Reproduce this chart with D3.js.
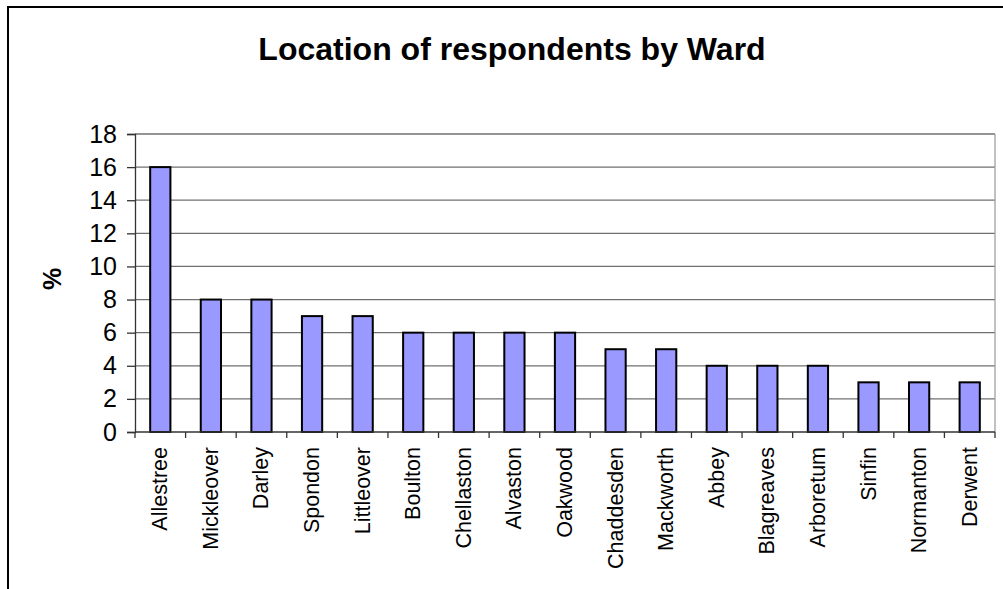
<!DOCTYPE html>
<html>
<head>
<meta charset="utf-8">
<script src="https://cdn.jsdelivr.net/npm/d3@7"></script>
<style>
  html, body { margin: 0; padding: 0; background: #fff; }
  svg { display: block; font-family: "Liberation Sans", Arial, sans-serif; }
</style>
</head>
<body>
<svg id="chart" width="1003" height="589"></svg>
<script>
// Survey responses by ward (percentage of respondents)
const wards = ["Allestree", "Mickleover", "Darley", "Spondon", "Littleover", "Boulton",
  "Chellaston", "Alvaston", "Oakwood", "Chaddesden", "Mackworth", "Abbey",
  "Blagreaves", "Arboretum", "Sinfin", "Normanton", "Derwent"];
const percents = [16, 8, 8, 7, 7, 6, 6, 6, 6, 5, 5, 4, 4, 4, 3, 3, 3];
const yTicks = [0, 2, 4, 6, 8, 10, 12, 14, 16, 18];
const titleText = "Location of respondents by Ward";
const yLabel = "%";

const svg = d3.select("#chart");
const W = 1003, H = 589;
const plot = { left: 135, right: 995, top: 134, bottom: 432 };

// outer chart frame (runs off the right/bottom edge)
svg.append("rect")
  .attr("x", 8).attr("y", 7)
  .attr("width", W + 20).attr("height", H + 20)
  .attr("fill", "#fff").attr("stroke", "#000").attr("stroke-width", 2);

const x = d3.scaleBand()
  .domain(wards)
  .range([plot.left, plot.right])
  .paddingInner(0.6)
  .paddingOuter(0.3);

const y = d3.scaleLinear()
  .domain([0, 18])
  .range([plot.bottom, plot.top]);

// gridlines
svg.append("g")
  .selectAll("line")
  .data(yTicks.filter(d => d > 0))
  .join("line")
  .attr("x1", plot.left).attr("x2", plot.right)
  .attr("y1", d => y(d)).attr("y2", d => y(d))
  .attr("stroke", "#707070").attr("stroke-width", 1.3);

// right edge of the plot area
svg.append("line")
  .attr("x1", plot.right).attr("x2", plot.right)
  .attr("y1", plot.top).attr("y2", plot.bottom)
  .attr("stroke", "#a0a0a0").attr("stroke-width", 1.3);

// bars
svg.append("g")
  .selectAll("rect")
  .data(wards)
  .join("rect")
  .attr("x", d => x(d))
  .attr("y", (d, i) => y(percents[i]))
  .attr("width", x.bandwidth())
  .attr("height", (d, i) => y(0) - y(percents[i]))
  .attr("fill", "#9999ff")
  .attr("stroke", "#000")
  .attr("stroke-width", 2);

// y axis
const yAxis = d3.axisLeft(y)
  .tickValues(yTicks)
  .tickSize(8)
  .tickPadding(10)
  .tickFormat(d3.format("d"));
const gy = svg.append("g")
  .attr("transform", `translate(${plot.left},0)`)
  .call(yAxis);
gy.select(".domain").attr("stroke", "#333").attr("stroke-width", 1.3);
gy.selectAll(".tick line").attr("stroke", "#333").attr("stroke-width", 1.3);
gy.selectAll(".tick text")
  .attr("font-size", 25)
  .attr("fill", "#000")
  .attr("font-family", "'Liberation Sans', Arial, sans-serif");

// x axis line and category boundary ticks
svg.append("line")
  .attr("x1", plot.left).attr("x2", plot.right)
  .attr("y1", plot.bottom).attr("y2", plot.bottom)
  .attr("stroke", "#333").attr("stroke-width", 1.3);
const step = x.step();
const bounds = d3.range(wards.length + 1).map(i => plot.left + i * step);
svg.append("g")
  .selectAll("line")
  .data(bounds)
  .join("line")
  .attr("x1", d => d).attr("x2", d => d)
  .attr("y1", plot.bottom).attr("y2", plot.bottom + 6)
  .attr("stroke", "#333").attr("stroke-width", 1.3);

// rotated category labels
svg.append("g")
  .selectAll("text")
  .data(wards)
  .join("text")
  .attr("transform", d => `translate(${x(d) + x.bandwidth() / 2},${plot.bottom + 15}) rotate(-90)`)
  .attr("text-anchor", "end")
  .attr("dominant-baseline", "central")
  .attr("font-size", 21.5)
  .attr("fill", "#000")
  .text(d => d);

// y axis title
svg.append("text")
  .attr("transform", `translate(52,${(plot.top + plot.bottom) / 2 - 4}) rotate(-90)`)
  .attr("text-anchor", "middle")
  .attr("dominant-baseline", "central")
  .attr("font-size", 25)
  .attr("font-weight", "bold")
  .text(yLabel);

// chart title
svg.append("text")
  .attr("x", 512).attr("y", 60)
  .attr("text-anchor", "middle")
  .attr("font-size", 32)
  .attr("font-weight", "bold")
  .text(titleText);
</script>
</body>
</html>
